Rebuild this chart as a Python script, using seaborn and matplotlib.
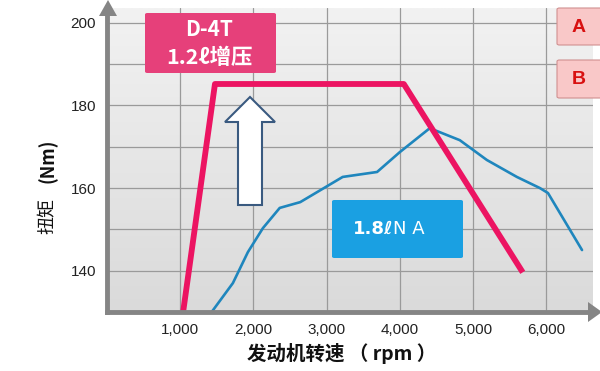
import numpy as np
import pandas as pd
import matplotlib
matplotlib.use("Agg")
import matplotlib.pyplot as plt
import seaborn as sns
from matplotlib.patches import FancyBboxPatch, Polygon

# ---- data ----
turbo_rpm = [1040, 1475, 4055, 5680]
turbo_torque = [130, 185.2, 185.2, 139.6]
na_rpm = [1430, 1720, 1925, 2130, 2360, 2640, 3220, 3690, 4000, 4410, 4820, 5190, 5600, 5915, 6025, 6490]
na_torque = [130, 137.0, 144.5, 150.3, 155.2, 156.6, 162.7, 163.9, 168.7, 174.5, 171.6, 166.8, 162.7, 160.0, 158.8, 145.0]
x_ticks = [1000, 2000, 3000, 4000, 5000, 6000]
x_tick_labels = ["1,000", "2,000", "3,000", "4,000", "5,000", "6,000"]
y_grid = [140, 150, 160, 170, 180, 190, 200]
y_tick_labels = ["140", "", "160", "", "180", "", "200"]

sns.set_style("white")
plt.rcParams['font.family'] = ['Liberation Sans', 'Noto Sans CJK SC', 'DejaVu Sans']
CJK = ['Noto Sans CJK SC', 'DejaVu Sans']

W, H = 600, 371
fig = plt.figure(figsize=(6, 3.71), dpi=100)
fig.patch.set_facecolor("white")

def fx(px):
    return px / W

def fy(py):
    return 1 - py / H

ax = fig.add_axes([fx(107), fy(312), fx(593) - fx(107), fy(8) - fy(312)])
ax.set_xlim(0, 6640)
ax.set_ylim(130, 203.6)

# background gradient of plot area
grad = np.linspace(0, 1, 256).reshape(-1, 1)
ax.imshow(grad, extent=[0, 6640, 130, 203.6], aspect='auto', origin='lower',
          cmap=matplotlib.colors.LinearSegmentedColormap.from_list('g', ['#dadada', '#f2f2f2']),
          zorder=0)

df_t = pd.DataFrame({"rpm": turbo_rpm, "torque": turbo_torque})
df_n = pd.DataFrame({"rpm": na_rpm, "torque": na_torque})
sns.lineplot(data=df_n, x="rpm", y="torque", ax=ax, color="#1f86bd", linewidth=1.9,
             sort=False, zorder=3)
sns.lineplot(data=df_t, x="rpm", y="torque", ax=ax, color="#ec1462", linewidth=4.2,
             sort=False, zorder=4, solid_capstyle='butt')

ax.set_xticks(x_ticks)
ax.set_xticklabels(x_tick_labels, fontsize=11, color="#222222")
ax.set_yticks(y_grid)
ax.set_yticklabels(y_tick_labels, fontsize=11, color="#222222")
ax.tick_params(length=0, pad=8)
ax.grid(True, color="#9a9a9a", linewidth=0.9, zorder=1)
ax.set_axisbelow(True)
ax.set_xlabel("")
ax.set_ylabel("")
for s in ["top", "right"]:
    ax.spines[s].set_visible(False)
for s in ["left", "bottom"]:
    ax.spines[s].set_color("#858585")
    ax.spines[s].set_linewidth(3.5)
    ax.spines[s].set_zorder(5)

# axis arrows
fig.patches.append(Polygon([[fx(99), fy(16)], [fx(117), fy(16)], [fx(108), fy(0)]],
                           closed=True, transform=fig.transFigure, facecolor="#858585",
                           edgecolor="none", zorder=6))
fig.patches.append(Polygon([[fx(588), fy(302)], [fx(588), fy(322)], [fx(602), fy(312)]],
                           closed=True, transform=fig.transFigure, facecolor="#858585",
                           edgecolor="none", zorder=6))

# axis labels
fig.text(fx(48), fy(216), "扭矩", rotation=90, ha="center", va="center",
         fontsize=13, color="#111111", family=CJK)
fig.text(fx(48), fy(161), "(Nm)", rotation=90, ha="center", va="center",
         fontsize=13, fontweight="bold", color="#111111", family=CJK)
fig.text(fx(342), fy(353), "发动机转速 （ rpm ）", ha="center", va="center",
         fontsize=14, fontweight="bold", color="#111111", family=CJK)

def box(x0, y0, x1, y1, fc, ec="none", r=0.004):
    p = FancyBboxPatch((fx(x0), fy(y1)), fx(x1) - fx(x0), fy(y0) - fy(y1),
                       boxstyle=f"round,pad=0,rounding_size={r}", transform=fig.transFigure,
                       facecolor=fc, edgecolor=ec, linewidth=0.8, zorder=7)
    fig.patches.append(p)

# pink turbo label
box(145, 13, 276, 73, "#e6407a")
fig.text(fx(209), fy(29), "D-4T", ha="center", va="center", color="white",
         fontsize=15, fontweight="bold", zorder=8, family=CJK)
fig.text(fx(210), fy(58), "1.2ℓ增压", ha="center", va="center", color="white",
         fontsize=15.5, fontweight="bold", zorder=8, family=CJK)

# blue NA label
box(332, 200, 463, 258, "#1aa0e2")
fig.text(fx(353), fy(229), "1.8ℓ", ha="left", va="center", color="white",
         fontsize=13, fontweight="bold", zorder=8, family=['DejaVu Sans'])
fig.text(fx(393), fy(229), "N A", ha="left", va="center", color="white",
         fontsize=13, zorder=8, family=['DejaVu Sans'])

# A / B boxes
box(557, 8, 603, 45, "#f9c8c8", ec="#d09090")
fig.text(fx(579), fy(27), "A", ha="center", va="center", color="#d81010",
         fontsize=14, fontweight="bold", zorder=8)
box(557, 60, 603, 98, "#f9c8c8", ec="#d09090")
fig.text(fx(579), fy(79), "B", ha="center", va="center", color="#d81010",
         fontsize=14, fontweight="bold", zorder=8)

# up arrow outline
pts = [(238, 205), (262, 205), (262, 122), (275, 122), (250, 97), (225, 122), (238, 122)]
fig.patches.append(Polygon([[fx(a), fy(b)] for a, b in pts], closed=True,
                           transform=fig.transFigure, facecolor="white",
                           edgecolor="#3a5a80", linewidth=1.5, zorder=7))

fig.savefig("out.png", dpi=100)
